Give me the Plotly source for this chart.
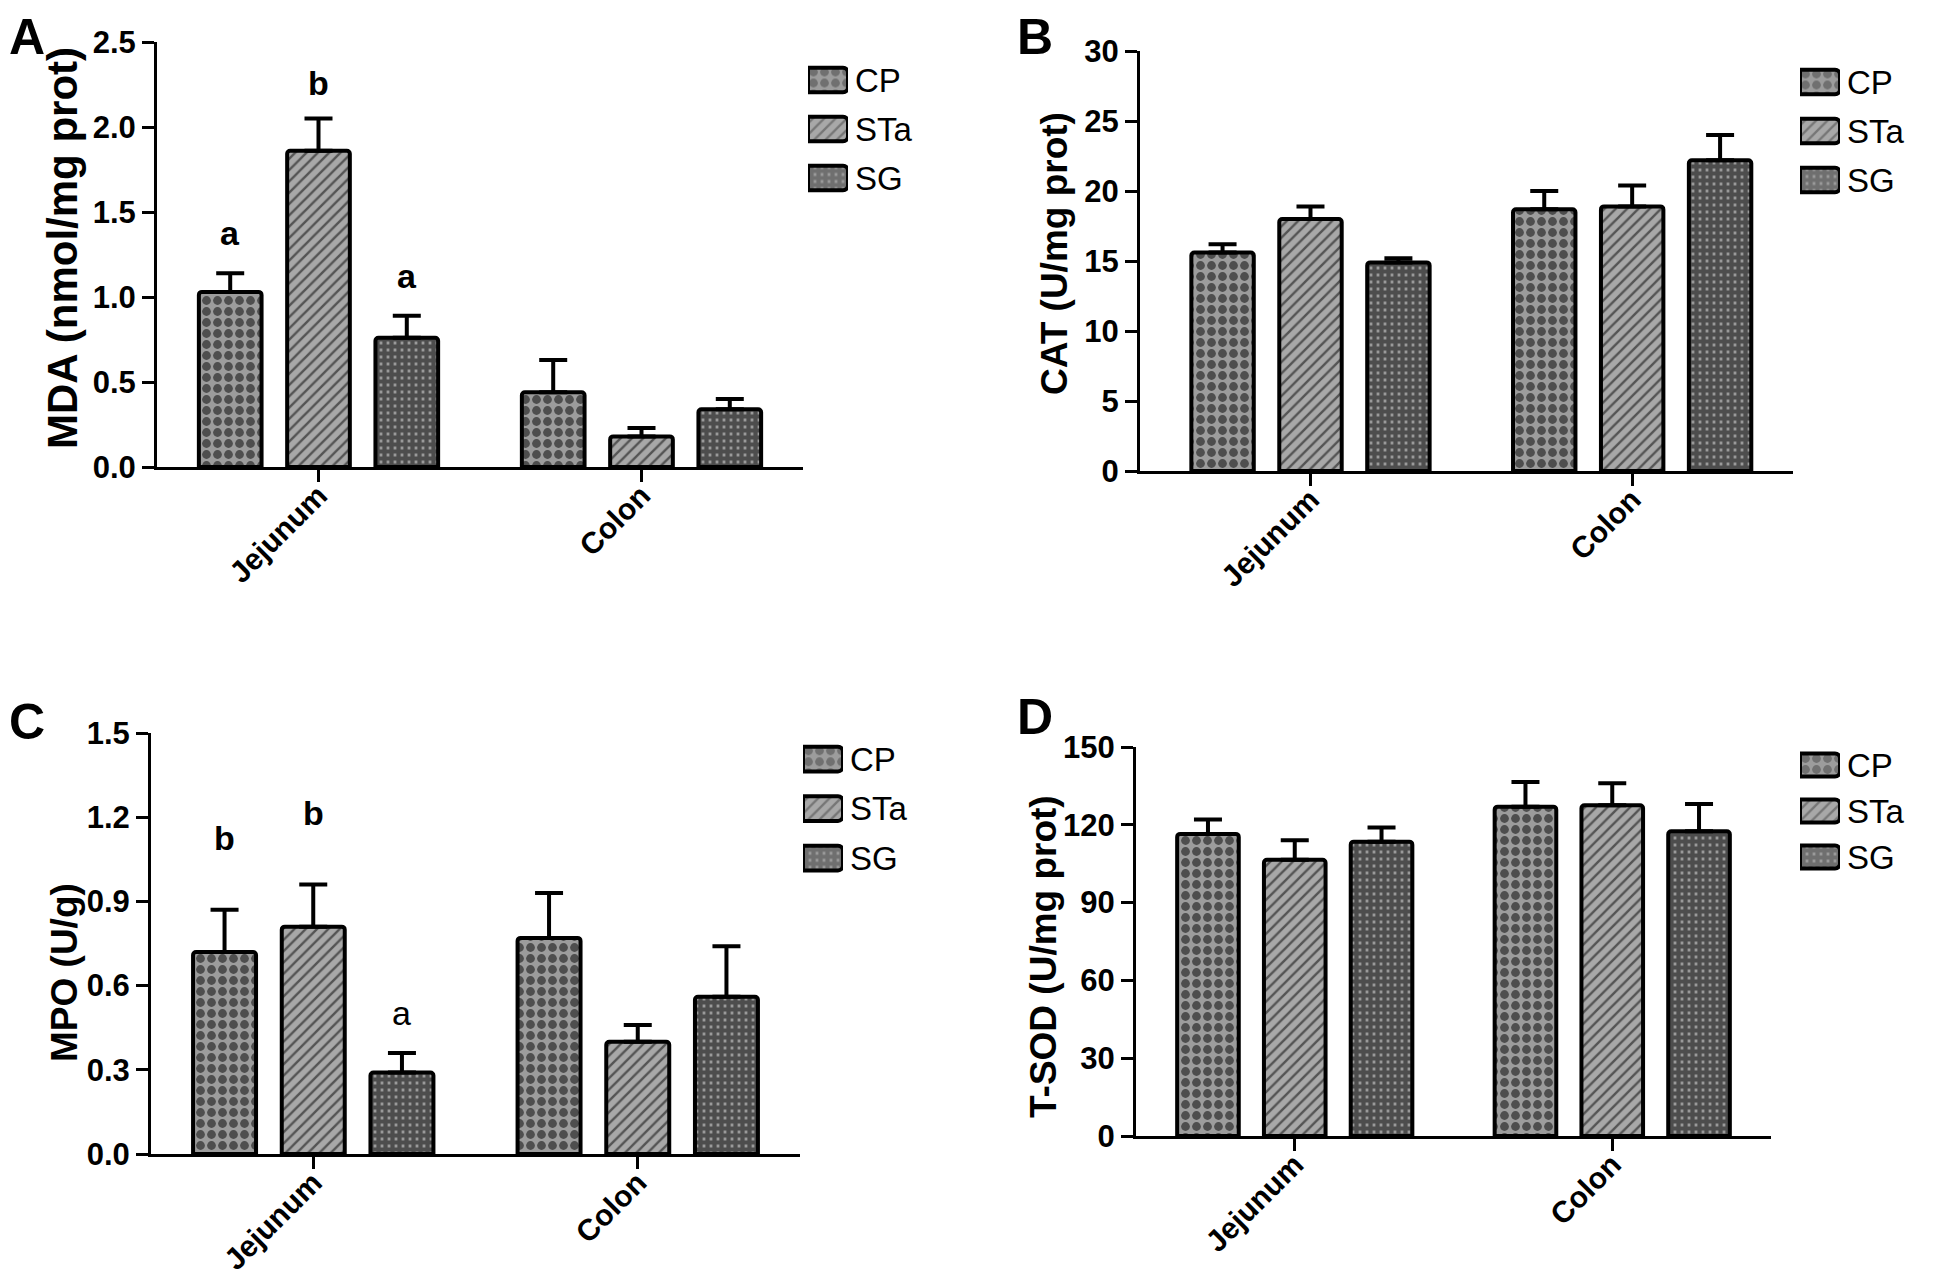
import plotly.graph_objects as go

groups = ["CP", "STa", "SG"]
sites = ["Jejunum", "Colon"]

# rows: CP, STa, SG ; columns: Jejunum, Colon
mda_mean = [[1.03, 0.44], [1.86, 0.18], [0.76, 0.34]]
mda_err = [[0.11, 0.19], [0.19, 0.05], [0.13, 0.06]]
mda_letters = ["a", "b", "a"]

cat_mean = [[15.6, 18.7], [18.0, 18.9], [14.9, 22.2]]
cat_err = [[0.6, 1.3], [0.9, 1.5], [0.3, 1.8]]

mpo_mean = [[0.72, 0.77], [0.81, 0.40], [0.29, 0.56]]
mpo_err = [[0.15, 0.16], [0.15, 0.06], [0.07, 0.18]]
mpo_letters = ["b", "b", "a"]

sod_mean = [[116.5, 127.0], [106.5, 127.5], [113.5, 117.5]]
sod_err = [[5.5, 9.5], [7.5, 8.5], [5.5, 10.5]]

# page is 1944x1285, the figure sits inside the 8px body margin
PAD = 8
FW, FH = 1944 - 2 * PAD, 1285 - 2 * PAD
BARGAP = 0.18
FONT = "Liberation Sans, Arial, sans-serif"

patterns = [
    dict(shape=".", bgcolor="#9c9c9c", fgcolor="black", size=11, solidity=0.5),
    dict(shape="/", bgcolor="#a8a8a8", fgcolor="black", size=8, solidity=0.3),
    dict(shape="+", bgcolor="#9a9a9a", fgcolor="black", size=7, solidity=0.84),
]


def px(x):
    return (x - PAD) / FW


def py(y):
    return 1 - (y - PAD) / FH


def xdom(a, b):
    return [px(a), px(b)]


def ydom(top, bottom):
    return [py(bottom), py(top)]


panels = [
    dict(tag="A", title="MDA (nmol/mg prot)", mean=mda_mean, err=mda_err,
         letters=mda_letters, bold=[True, True, True], lshift={"a": 40, "b": 36},
         yrange=[0, 2.5], dtick=0.5, fmt=".1f",
         xd=(157, 803), yd=(42, 467), xr=[-0.5, 1.5],
         leg=(808, 80, 178), tag_pos=(8, None), ttl=(62, 248), ttl_size=42),
    dict(tag="B", title="CAT (U/mg prot)", mean=cat_mean, err=cat_err,
         letters=None, bold=None, lshift=None,
         yrange=[0, 30], dtick=5, fmt="d",
         xd=(1140, 1793), yd=(51, 471), xr=[-0.53, 1.5],
         leg=(1800, 82, 180), tag_pos=(1016, None), ttl=(1054, 254), ttl_size=37),
    dict(tag="C", title="MPO (U/g)", mean=mpo_mean, err=mpo_err,
         letters=mpo_letters, bold=[True, True, False], lshift={"a": 40, "b": 72},
         yrange=[0, 1.5], dtick=0.3, fmt=".1f",
         xd=(151, 800), yd=(733, 1154), xr=[-0.5, 1.5],
         leg=(803, 759, 858), tag_pos=(8, 722), ttl=(64, 973), ttl_size=37),
    dict(tag="D", title="T-SOD (U/mg prot)", mean=sod_mean, err=sod_err,
         letters=None, bold=None, lshift=None,
         yrange=[0, 150], dtick=30, fmt="d",
         xd=(1136, 1771), yd=(747, 1136), xr=[-0.5, 1.5],
         leg=(1800, 765, 857), tag_pos=(1016, 717), ttl=(1043, 957), ttl_size=37),
]

fig = go.Figure()
annotations = []
layout = {}
slot = (1 - BARGAP) / 3

for k, p in enumerate(panels):
    n = k + 1
    xa, ya = ("x" if n == 1 else f"x{n}"), ("y" if n == 1 else f"y{n}")
    for g, name in enumerate(groups):
        fig.add_trace(go.Bar(
            x=sites, y=p["mean"][g], name=name, xaxis=xa, yaxis=ya,
            showlegend=False,
            marker=dict(color=patterns[g]["bgcolor"], pattern=patterns[g],
                        line=dict(color="black", width=4), cornerradius=3),
            error_y=dict(type="data", array=p["err"][g], arrayminus=[0, 0],
                         symmetric=False, color="black", thickness=4, width=14),
        ))
        if p["letters"]:
            letter = p["letters"][g]
            annotations.append(dict(
                x=(g - 1) * slot, y=p["mean"][g][0] + p["err"][g][0],
                xref=xa, yref=ya, text=letter, showarrow=False,
                yanchor="middle", yshift=p["lshift"][letter],
                font=dict(family=FONT, size=34, color="black",
                          weight="bold" if p["bold"][g] else "normal"),
            ))
    axis_line = dict(showline=True, linecolor="black", linewidth=3,
                     ticks="outside", ticklen=12, tickwidth=3, tickcolor="black",
                     showgrid=False, zeroline=False, automargin=False)
    layout["xaxis" if n == 1 else f"xaxis{n}"] = dict(
        axis_line, domain=xdom(*p["xd"]), anchor=ya, type="category",
        range=p["xr"], tickangle=-45, ticklabelstandoff=-16,
        tickfont=dict(family=FONT, size=30, color="black", weight="bold"))
    layout["yaxis" if n == 1 else f"yaxis{n}"] = dict(
        axis_line, domain=ydom(*p["yd"]), anchor=xa, range=p["yrange"],
        dtick=p["dtick"], tick0=0, tickformat=p["fmt"],
        tickfont=dict(family=FONT, size=31, color="black", weight="bold"))

    annotations.append(dict(
        x=px(p["ttl"][0]), y=py(p["ttl"][1]), xref="paper", yref="paper",
        text=p["title"], textangle=-90, showarrow=False,
        xanchor="center", yanchor="middle",
        font=dict(family=FONT, size=p["ttl_size"], color="black", weight="bold")))
    tx, ty = p["tag_pos"]
    annotations.append(dict(
        x=px(tx), y=1 if ty is None else py(ty), xref="paper", yref="paper",
        text=p["tag"], showarrow=False, xanchor="left", borderpad=0,
        yanchor="top" if ty is None else "middle",
        font=dict(family=FONT, size=50, color="black", weight="bold")))

    # legend swatches drawn as a small horizontal bar chart
    m = n + 4
    left, c1, c3 = p["leg"]
    pitch = (c3 - c1) / 2
    fig.add_trace(go.Bar(
        x=[1, 1, 1], y=groups, orientation="h", xaxis=f"x{m}", yaxis=f"y{m}",
        showlegend=False, hoverinfo="skip", width=0.5,
        marker=dict(
            color=[pt["bgcolor"] for pt in patterns],
            pattern=dict(shape=[pt["shape"] for pt in patterns],
                         bgcolor=[pt["bgcolor"] for pt in patterns],
                         fgcolor=[pt["fgcolor"] for pt in patterns],
                         size=[pt["size"] for pt in patterns],
                         solidity=[pt["solidity"] for pt in patterns]),
            line=dict(color="black", width=4), cornerradius=5),
    ))
    layout[f"xaxis{m}"] = dict(domain=xdom(left, left + 40), anchor=f"y{m}",
                               range=[0, 1], visible=False, fixedrange=True,
                               automargin=False)
    layout[f"yaxis{m}"] = dict(domain=ydom(c1 - pitch / 2, c3 + pitch / 2), anchor=f"x{m}",
                               type="category", range=[2.5, -0.5], side="right",
                               showline=False, showgrid=False, zeroline=False, ticks="",
                               ticklabelstandoff=6, automargin=False,
                               tickfont=dict(family=FONT, size=33, color="black"))

fig.update_layout(
    width=FW, height=FH, margin=dict(l=0, r=0, t=0, b=0),
    paper_bgcolor="white", plot_bgcolor="white",
    barmode="group", bargap=BARGAP, bargroupgap=0.29,
    annotations=annotations, **layout,
)

fig.write_html("out.html")
